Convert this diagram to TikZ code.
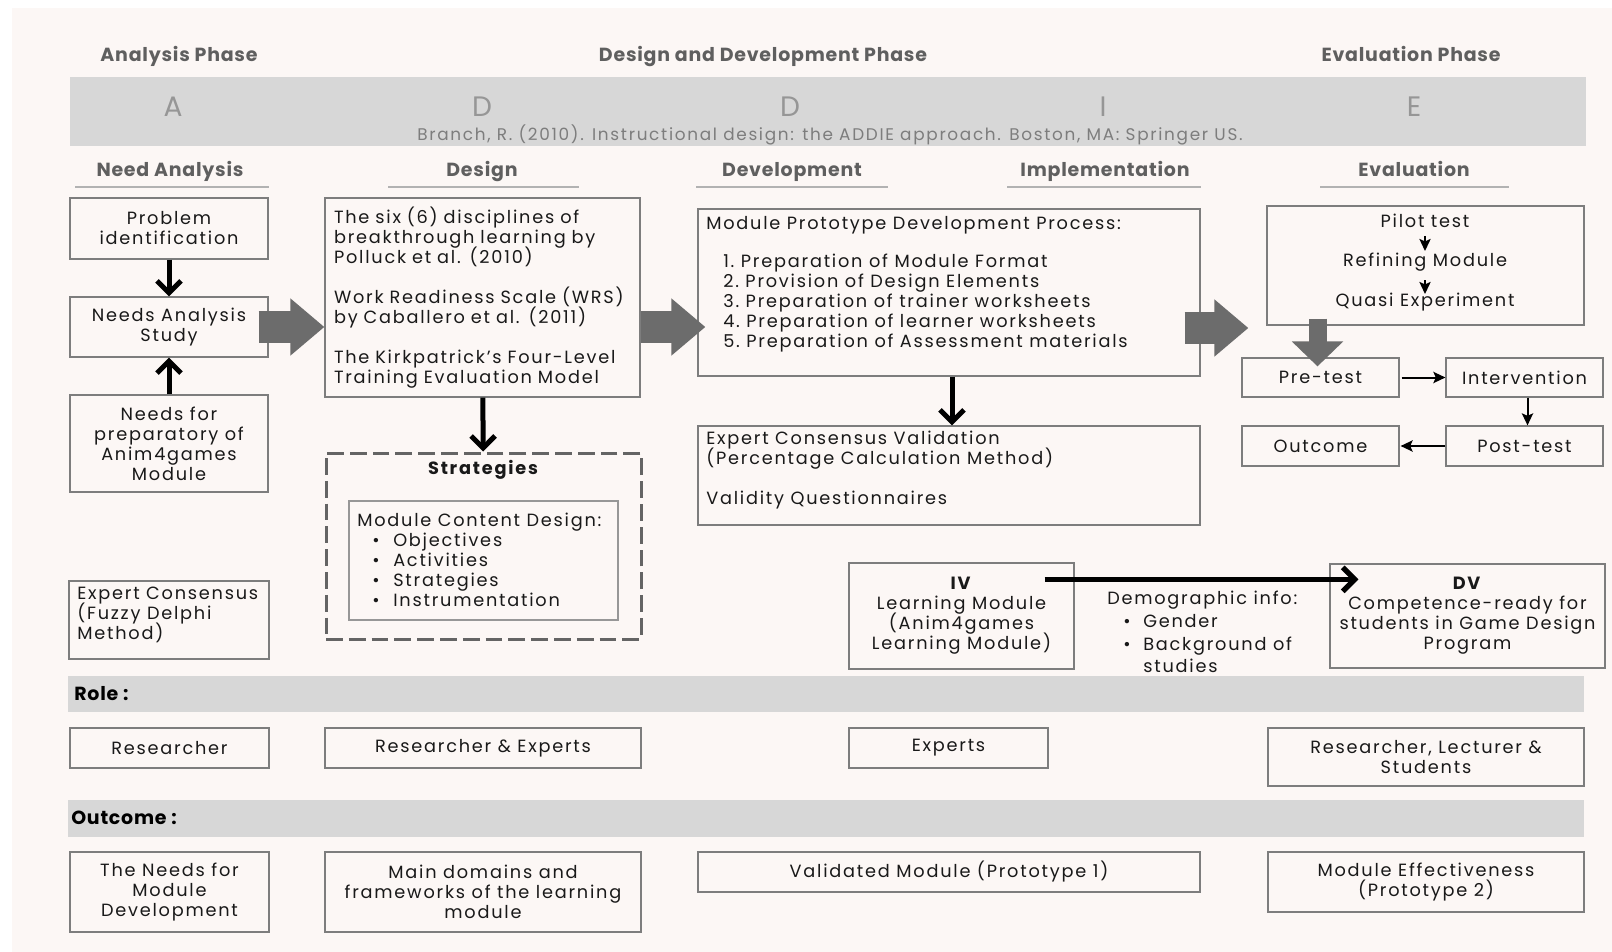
\documentclass[tikz,border=0pt]{standalone}
\usepackage{fontspec}
\setmainfont{Poppins}[LetterSpace=10]
\newfontfamily\headfont{Poppins}[LetterSpace=4]
\usetikzlibrary{arrows.meta, calc}

\definecolor{paper}{RGB}{252,247,245}
\definecolor{band}{RGB}{215,215,215}
\definecolor{boxline}{RGB}{125,125,125}
\definecolor{ink}{RGB}{25,25,25}
\definecolor{headgray}{RGB}{95,95,95}
\definecolor{lettergray}{RGB}{150,150,150}
\definecolor{citegray}{RGB}{125,125,125}
\definecolor{blockgray}{RGB}{108,108,108}
\definecolor{dashgray}{RGB}{100,100,100}

\newcommand{\bodysize}{\fontsize{12.6pt}{14.2pt}\selectfont\lineskiplimit=-100pt}

\tikzset{
	box/.style={draw=boxline, line width=0.85pt, inner sep=0pt, align=center, text=ink, font=\bodysize},
	sized/.style 2 args={minimum width=#1*0.025cm, minimum height=#2*0.025cm},
	txt/.style={inner sep=0pt, align=left, text=ink, font=\bodysize},
	phase/.style={inner sep=0pt, anchor=base, text=headgray, font=\headfont\bfseries\fontsize{13.5pt}{15pt}\selectfont},
	addie/.style={inner sep=0pt, anchor=base, text=lettergray, font=\headfont\fontsize{20pt}{22pt}\selectfont},
	citeline/.style={inner sep=0pt, anchor=base, text=citegray, font=\fontsize{12pt}{13pt}\selectfont},
	rowlabel/.style={inner sep=0pt, anchor=base west, text=black, font=\headfont\bfseries\fontsize{13.5pt}{15pt}\selectfont},
	underline/.style={draw=gray!60, line width=1pt},
	dashbox/.style={draw=dashgray, line width=0.075cm, dash pattern=on 0.42cm off 0.15cm},
	blockarrow/.style={blockgray, line width=0.775cm, -{Triangle[length=0.85cm, width=1.375cm]}},
	blockdown/.style={blockgray, line width=0.45cm, -{Triangle[length=0.625cm, width=1.25cm]}},
	bigarrow/.style={black, line width=0.125cm, -{Straight Barb[length=0.3cm, width=0.6cm]}},
	thinarrow/.style={black, line width=0.05cm, -{Stealth[length=0.3cm, width=0.28cm, inset=0.06cm]}}
}

\begin{document}
\begin{tikzpicture}[x=0.025cm, y=-0.025cm]
	\useasboundingbox (0,0) rectangle (1612,952);
	\fill [white] (0,0) rectangle (1612,952);
	\fill [paper] (12,8) rectangle (1612,952);

	% phases and ADDIE band
	\node [phase] (ph1) at (179,61.5) {Analysis Phase};
	\node [phase] (ph2) at (763,61.5) {Design and Development Phase};
	\node [phase] (ph3) at (1411,61.5) {Evaluation Phase};
	\fill [band] (70,77) rectangle (1586,146);
	\node [addie] (la) at (173,117) {A};
	\node [addie] (ld1) at (482,117) {D};
	\node [addie] (ld2) at (790,117) {D};
	\node [addie] (li) at (1103,117) {I};
	\node [addie] (le) at (1414,117) {E};
	\node [citeline] (branch) at (830,140.5) {Branch, R. (2010). Instructional design: the ADDIE approach. Boston, MA: Springer US.};

	\node [phase] (s1) at (170,176.5) {Need Analysis};
	\node [phase] (s2) at (482,176.5) {Design};
	\node [phase] (s3) at (792,176.5) {Development};
	\node [phase] (s4) at (1105,176.5) {Implementation};
	\node [phase] (s5) at (1414,176.5) {Evaluation};
	\draw [underline] (75,187) -- (269,187);
	\draw [underline] (388,187) -- (579,187);
	\draw [underline] (696,187) -- (888,187);
	\draw [underline] (1007,187) -- (1201,187);
	\draw [underline] (1320,187) -- (1509,187);

	% analysis
	\node [box, sized={198}{61}] (prob) at (169,228.5) {Problem\\identification};
	\node [box, sized={198}{60}] (nas) at (169,327) {Needs Analysis\\Study};
	\node [box, sized={198}{97}] (prep) at (169,443.5) {Needs for\\preparatory of\\Anim4games\\Module};
	\node [box, sized={200}{78}] (fuzzy) at (169,620) {};
	\node [txt, anchor=west] (fuzzytxt) at (77,615) {Expert Consensus\\(Fuzzy Delphi\\Method)};
	\draw [bigarrow] (prob) -- (nas);
	\draw [bigarrow] (prep) -- (nas);

	% design
	\node [box, sized={315}{199}, align=left, text width=297*0.025cm] (design) at (482.5,297.5) {The six (6) disciplines of\\breakthrough learning by\\Polluck et al. (2010)\\[14.2pt]Work Readiness Scale (WRS)\\by Caballero et al. (2011)\\[14.2pt]The Kirkpatrick’s Four-Level\\Training Evaluation Model};
	\node [dashbox, sized={315}{186}] (strat) at (483.5,546) {};
	\node [txt, font=\bodysize\bfseries] (strattitle) at (483,470) {Strategies};
	\node [box, draw=boxline!80, sized={269}{119}] (content) at (483.5,560.5) {};
	\node [txt, anchor=west] (contenttxt) at (357,559.5) {Module Content Design:\\\hspace*{0.375cm}\makebox[0.525cm][l]{•}Objectives\\\hspace*{0.375cm}\makebox[0.525cm][l]{•}Activities\\\hspace*{0.375cm}\makebox[0.525cm][l]{•}Strategies\\\hspace*{0.375cm}\makebox[0.525cm][l]{•}Instrumentation};
	\draw [bigarrow] (design) -- (strat);

	% development
	\node [box, sized={502}{167}] (dev) at (949,292.5) {};
	\node [txt, anchor=west] (devtxt) at (706,284) {Module Prototype Development Process:\\[13pt]\hspace*{0.425cm}1.~Preparation of Module Format\\\hspace*{0.425cm}2.~Provision of Design Elements\\\hspace*{0.425cm}3.~Preparation of trainer worksheets\\\hspace*{0.425cm}4.~Preparation of learner worksheets\\\hspace*{0.425cm}5.~Preparation of Assessment materials};
	\node [box, sized={502}{99}] (valid) at (949,475.5) {};
	\node [txt, anchor=west] (validtxt) at (706,470) {Expert Consensus Validation\\(Percentage Calculation Method)\\[14.2pt]Validity Questionnaires};
	\draw [bigarrow] ($(dev.south)+(3,0)$) -- ($(valid.north)+(3,0)$);

	% evaluation
	\node [box, sized={317}{119}] (evalbox) at (1425.5,265.5) {};
	\node [txt, anchor=base] (pilot) at (1425,228) {Pilot test};
	\node [txt, anchor=base] (refine) at (1425,266) {Refining Module};
	\node [txt, anchor=base] (quasi) at (1425,306) {Quasi Experiment};
	\draw [thinarrow] ($(pilot.base)+(0,8)$) -- ($(refine.base)+(0,-15)$);
	\draw [thinarrow] ($(refine.base)+(0,14)$) -- ($(quasi.base)+(0,-12)$);
	\node [box, sized={157}{39}] (pretest) at (1320.5,377.5) {Pre-test};
	\node [box, sized={157}{39}] (interv) at (1524.5,377.5) {Intervention};
	\node [box, sized={157}{40}] (outc) at (1320.5,446) {Outcome};
	\node [box, sized={157}{40}] (posttest) at (1524.5,446) {Post-test};
	\draw [thinarrow] ($(pretest.east)+(2,0)$) -- (interv.west);
	\draw [thinarrow] ($(interv.south)+(3,0)$) -- ($(posttest.north)+(3,0)$);
	\draw [thinarrow] (posttest.west) -- ($(outc.east)+(1,0)$);

	% variables
	\node [box, sized={225}{106}] (iv) at (961.5,616) {\textbf{IV}\\Learning Module\\(Anim4games\\Learning Module)};
	\node [box, sized={275}{104}] (dv) at (1467.5,616) {\textbf{DV}\\Competence-ready for\\students in Game Design\\Program};
	\node [txt, anchor=west, font=\fontsize{12.6pt}{16.1pt}\selectfont] (demo) at (1107,632) {Demographic info:\\\hspace*{0.4cm}\makebox[0.5cm][l]{•}Gender\\\hspace*{0.4cm}\makebox[0.5cm][l]{•}Background of\\\hspace*{0.9cm}studies};
	\draw [bigarrow, line width=0.13cm] ($(iv.north east)+(-30,17)$) -- ($(dv.north west)+(29,16)$);

	% block arrows
	\draw [blockarrow] ($(nas.east)+(-10,0)$) -- (design.west|-nas.east);
	\draw [blockarrow] (design.east|-nas.east) -- ($(dev.west|-nas.east)+(8,0)$);
	\draw [blockarrow] ($(dev.east|-nas.east)+(-16,1)$) -- ($(evalbox.west|-nas.east)+(-18,1)$);
	\draw [blockdown] ($(pretest.north|-evalbox.south)+(-3,-7)$) -- ($(pretest.north)+(-3,9)$);

	% role
	\fill [band] (68,676) rectangle (1584,712);
	\node [rowlabel] (role) at (74,700) {Role :};
	\node [box, sized={199}{40}] (r1) at (169.5,748) {Researcher};
	\node [box, sized={316}{40}] (r2) at (483,748) {Researcher \& Experts};
	\node [box, sized={199}{40}] (r3) at (948.5,748) {Experts};
	\node [box, sized={316}{58}] (r4) at (1426,757) {Researcher, Lecturer \&\\Students};

	% outcome
	\fill [band] (68,800) rectangle (1584,837);
	\node [rowlabel] (outlbl) at (71,824) {Outcome :};
	\node [box, sized={199}{80}] (o1) at (169.5,892) {The Needs for\\Module\\Development};
	\node [box, sized={316}{80}] (o2) at (483,892) {Main domains and\\frameworks of the learning\\module};
	\node [box, sized={502}{40}] (o3) at (949,872) {Validated Module (Prototype 1)};
	\node [box, sized={316}{60}] (o4) at (1426,882) {Module Effectiveness\\(Prototype 2)};
\end{tikzpicture}
\end{document}
